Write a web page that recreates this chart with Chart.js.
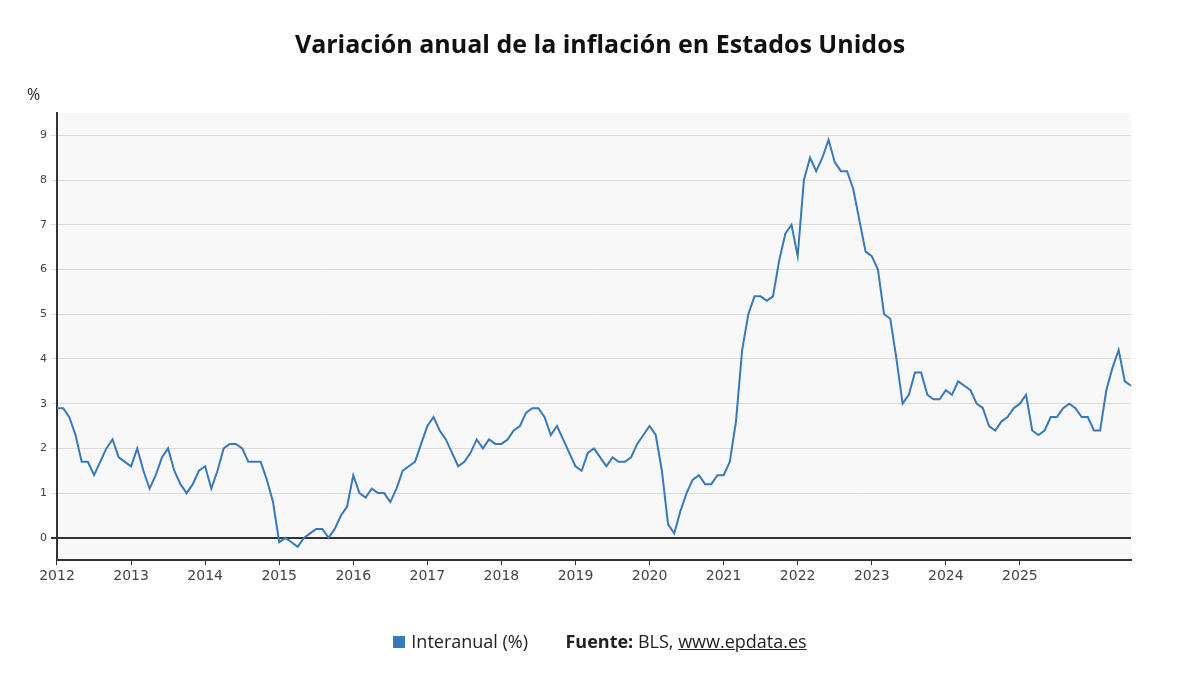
<!DOCTYPE html>
<html>
<head>
<meta charset="utf-8">
<script src="https://cdn.jsdelivr.net/npm/chart.js@4/dist/chart.umd.min.js"></script>
<style>
  body { margin: 0; background: #fff; font-family: "Open Sans", "DejaVu Sans", sans-serif; }
  #wrap { position: relative; width: 1200px; height: 688px; }
  #title { position: absolute; top: 26px; width: 100%; text-align: center; font-size: 25px; font-weight: bold; color: #111; }
  #unit { position: absolute; left: 27px; top: 83px; font-size: 16px; color: #222; }
  #legend { position: absolute; top: 629px; width: 100%; text-align: center; font-size: 18px; color: #222; }
  .sw { display: inline-block; width: 12px; height: 12px; background: #3879b6; margin-right: 6px; }
  a { color: #222; text-decoration: underline; }
</style>
</head>
<body>
<div id="wrap">
  <div id="title">Variación anual de la inflación en Estados Unidos</div>
  <div id="unit">%</div>
  <canvas id="c" width="1200" height="688"></canvas>
  <div id="legend"><span class="sw"></span>Interanual (%) &nbsp; &nbsp; &nbsp; &nbsp;<b>Fuente:</b> BLS, <a>www.epdata.es</a></div>
</div>
<script>
const years = [2012, 2013, 2014, 2015, 2016, 2017, 2018, 2019, 2020, 2021, 2022, 2023, 2024, 2025, 2026];
const values = [
  2.9, 2.9, 2.7, 2.3, 1.7, 1.7, 1.4, 1.7, 2.0, 2.2, 1.8, 1.7,
  1.6, 2.0, 1.5, 1.1, 1.4, 1.8, 2.0, 1.5, 1.2, 1.0, 1.2, 1.5,
  1.6, 1.1, 1.5, 2.0, 2.1, 2.1, 2.0, 1.7, 1.7, 1.7, 1.3, 0.8,
  -0.1, 0.0, -0.1, -0.2, 0.0, 0.1, 0.2, 0.2, 0.0, 0.2, 0.5, 0.7,
  1.4, 1.0, 0.9, 1.1, 1.0, 1.0, 0.8, 1.1, 1.5, 1.6, 1.7, 2.1,
  2.5, 2.7, 2.4, 2.2, 1.9, 1.6, 1.7, 1.9, 2.2, 2.0, 2.2, 2.1,
  2.1, 2.2, 2.4, 2.5, 2.8, 2.9, 2.9, 2.7, 2.3, 2.5, 2.2, 1.9,
  1.6, 1.5, 1.9, 2.0, 1.8, 1.6, 1.8, 1.7, 1.7, 1.8, 2.1, 2.3,
  2.5, 2.3, 1.5, 0.3, 0.1, 0.6, 1.0, 1.3, 1.4, 1.2, 1.2, 1.4,
  1.4, 1.7, 2.6, 4.2, 5.0, 5.4, 5.4, 5.3, 5.4, 6.2, 6.8, 7.0,
  6.3, 8.0, 8.5, 8.2, 8.5, 8.9, 8.4, 8.2, 8.2, 7.8, 7.1, 6.4,
  6.3, 6.0, 5.0, 4.9, 4.0, 3.0, 3.2, 3.7, 3.7, 3.2, 3.1, 3.1,
  3.3, 3.2, 3.5, 3.4, 3.3, 3.0, 2.9, 2.5, 2.4, 2.6, 2.7, 2.9,
  3.0, 3.2, 2.4, 2.3, 2.4, 2.7, 2.7, 2.9, 3.0, 2.9, 2.7, 2.7,
  2.4, 2.4, 3.3, 3.8, 4.2, 3.5, 3.4
];
const yTicks = [0, 1, 2, 3, 4, 5, 6, 7, 8, 9];
const lastLabeledYear = 2025;

const labels = values.map((v, i) => years[Math.floor(i / 12)] + '-' + String(i % 12 + 1).padStart(2, '0'));
const isYearTick = i => i % 12 === 0 && years[i / 12] <= lastLabeledYear;

const bgPlugin = {
  id: 'bg',
  beforeDraw(chart) {
    const { ctx, chartArea: a } = chart;
    ctx.save();
    ctx.fillStyle = '#f8f8f8';
    ctx.fillRect(a.left, a.top, a.right - a.left, a.bottom - a.top);
    ctx.restore();
  }
};

new Chart(document.getElementById('c'), {
  type: 'line',
  data: {
    labels: labels,
    datasets: [{
      label: 'Interanual (%)',
      data: values,
      borderColor: '#3879b6',
      borderWidth: 2,
      pointRadius: 0,
      tension: 0,
      fill: false
    }]
  },
  options: {
    responsive: false,
    animation: false,
    layout: { padding: { left: 36, right: 69, top: 113, bottom: 100 } },
    plugins: { legend: { display: false }, tooltip: { enabled: false } },
    scales: {
      x: {
        offset: false,
        grid: {
          drawOnChartArea: false,
          color: ctx => (isYearTick(ctx.index) ? '#333' : 'rgba(0,0,0,0)'),
          tickLength: 5
        },
        border: { color: '#333', width: 2 },
        ticks: {
          autoSkip: false,
          maxRotation: 0,
          color: '#444',
          font: { size: 14, family: 'DejaVu Sans' },
          callback: (v, i) => (isYearTick(i) ? labels[i].slice(0, 4) : '')
        }
      },
      y: {
        min: -0.5,
        max: 9.5,
        afterBuildTicks: axis => { axis.ticks = yTicks.map(v => ({ value: v })); },
        grid: {
          color: ctx => (ctx.tick && ctx.tick.value === 0 ? '#333' : '#dcdcdc'),
          lineWidth: ctx => (ctx.tick && ctx.tick.value === 0 ? 2 : 1),
          tickLength: 6
        },
        border: { color: '#333', width: 2 },
        ticks: { color: '#444', font: { size: 11, family: 'DejaVu Sans' }, padding: 4 }
      }
    }
  },
  plugins: [bgPlugin]
});
</script>
</body>
</html>
